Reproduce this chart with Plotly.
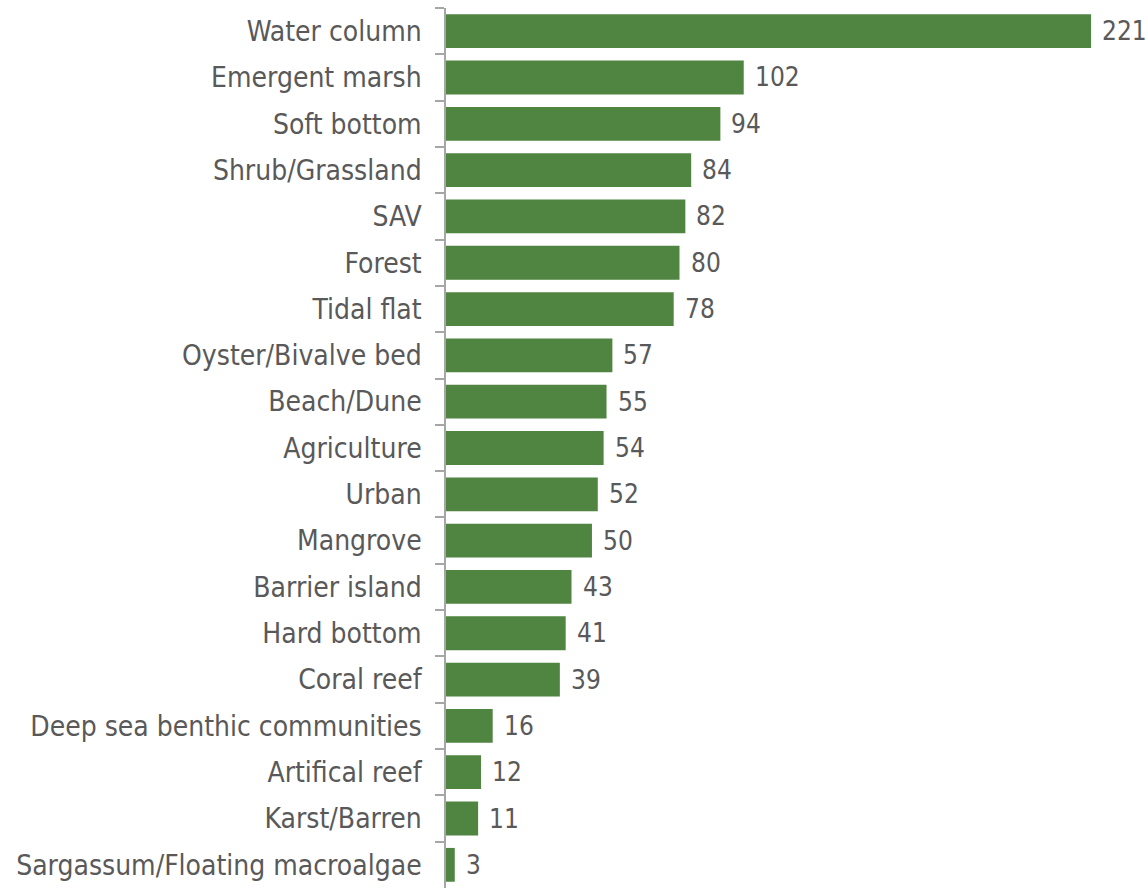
import plotly.graph_objects as go

categories = ["Water column", "Emergent marsh", "Soft bottom", "Shrub/Grassland", "SAV",
              "Forest", "Tidal flat", "Oyster/Bivalve bed", "Beach/Dune", "Agriculture",
              "Urban", "Mangrove", "Barrier island", "Hard bottom", "Coral reef",
              "Deep sea benthic communities", "Artifical reef", "Karst/Barren",
              "Sargassum/Floating macroalgae"]
values = [221, 102, 94, 84, 82, 80, 78, 57, 55, 54, 52, 50, 43, 41, 39, 16, 12, 11, 3]

FONT = "Liberation Sans Narrow, Arial Narrow, DejaVu Sans Condensed, sans-serif"
TXT = "#595959"

fig = go.Figure(go.Bar(
    x=values, y=categories, orientation="h",
    marker=dict(color="#4F8441", line=dict(width=0)),
    width=0.73, hoverinfo="x+y",
))

for c, v in zip(categories, values):
    fig.add_annotation(x=v, y=c, text=str(v), xanchor="left", yanchor="middle",
                       showarrow=False, xshift=9,
                       font=dict(family=FONT, size=26, color=TXT))

fig.update_layout(
    width=1148, height=888,
    margin=dict(l=446, r=0, t=8, b=0),
    plot_bgcolor="white", paper_bgcolor="white",
    showlegend=False,
    xaxis=dict(range=[0, 240.5], visible=False, showgrid=False, zeroline=False),
    yaxis=dict(autorange="reversed", type="category", showgrid=False, zeroline=False,
               showline=True, linecolor="#A6A6A6", linewidth=1.5,
               ticks="outside", tickson="boundaries", ticklen=9, tickcolor="#A6A6A6",
               tickwidth=1.5, ticklabelstandoff=17,
               tickfont=dict(family=FONT, size=28, color=TXT)),
)

fig.write_html("out.html")
